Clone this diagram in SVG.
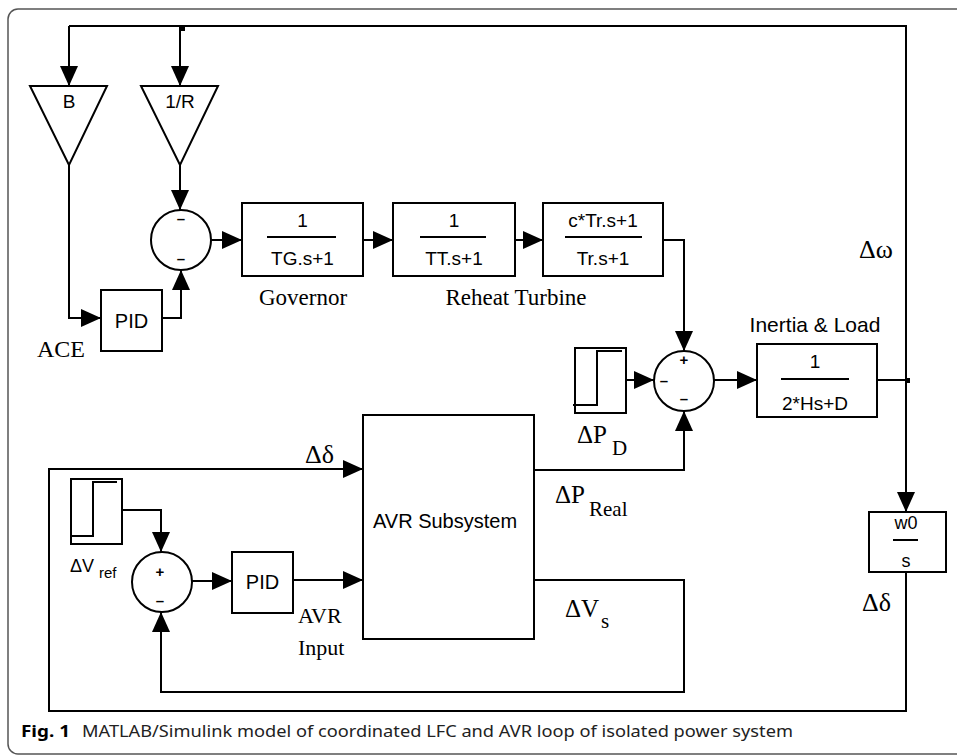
<svg xmlns="http://www.w3.org/2000/svg" width="957" height="755" viewBox="0 0 957 755">
<defs>
<style>
.ln{fill:none;stroke:#000;stroke-width:2}
.bx{fill:#fff;stroke:#000;stroke-width:2}
.h{font-family:"Liberation Sans",Arial,sans-serif;fill:#000}
.t{font-family:"Liberation Serif","Times New Roman",serif;fill:#000}
.c{text-anchor:middle}
.sg{font-family:"Liberation Sans",Arial,sans-serif;font-weight:bold;font-size:15px;text-anchor:middle}
</style>
<marker id="ar" markerUnits="userSpaceOnUse" markerWidth="20" markerHeight="18" refX="20" refY="9" orient="auto" viewBox="0 0 20 18">
<path d="M0,0 L20,9 L0,18 z" fill="#000"/>
</marker>
</defs>
<rect width="957" height="755" fill="#fff"/>
<rect x="8" y="9" width="1000" height="745" rx="10" fill="none" stroke="#555" stroke-width="1.5"/>

<g id="connectors">
<path class="ln" d="M69,26 H906 V512" marker-end="url(#ar)"/>
<path class="ln" d="M69,26 V86" marker-end="url(#ar)"/>
<path class="ln" d="M180,26 V86" marker-end="url(#ar)"/>
<rect x="180" y="25" width="5" height="6" fill="#000"/>
<path class="ln" d="M180,165 V210" marker-end="url(#ar)"/>
<path class="ln" d="M69,165 V318 H101" marker-end="url(#ar)"/>
<path class="ln" d="M162,318 H181 V270" marker-end="url(#ar)"/>
<path class="ln" d="M211,240 H242" marker-end="url(#ar)"/>
<path class="ln" d="M363,240 H393" marker-end="url(#ar)"/>
<path class="ln" d="M515,240 H543" marker-end="url(#ar)"/>
<path class="ln" d="M663,240 H684 V351" marker-end="url(#ar)"/>
<path class="ln" d="M623,380 H654" marker-end="url(#ar)"/>
<path class="ln" d="M714,380 H757" marker-end="url(#ar)"/>
<path class="ln" d="M877,380 H906"/>
<rect x="905" y="378" width="5" height="5" fill="#000"/>
<path class="ln" d="M534,470 H684 V411" marker-end="url(#ar)"/>
<path class="ln" d="M906,572 V711 H49 V469 H363" marker-end="url(#ar)"/>
<path class="ln" d="M122,510 H161 V552" marker-end="url(#ar)"/>
<path class="ln" d="M192,581 H232" marker-end="url(#ar)"/>
<path class="ln" d="M293,580 H363" marker-end="url(#ar)"/>
<path class="ln" d="M534,580 H684 V692 H161 V612" marker-end="url(#ar)"/>
</g>

<g id="gainB">
<path class="bx" d="M30,86 H107 L69,165 z"/>
<text class="h c" x="69" y="108" font-size="19">B</text>
</g>
<g id="gainR">
<path class="bx" d="M141,86 H218 L180,165 z"/>
<text class="h c" x="180" y="108" font-size="19">1/R</text>
</g>

<g id="sum1">
<circle class="bx" cx="181" cy="240" r="30"/>
<text class="sg" x="181" y="224">–</text>
<text class="sg" x="181" y="264">–</text>
</g>

<g id="pid1">
<rect class="bx" x="101" y="290" width="61" height="61"/>
<text class="h c" x="131.5" y="328" font-size="20">PID</text>
<text class="t" x="37" y="357" font-size="24">ACE</text>
</g>

<g id="governor">
<rect class="bx" x="242" y="203" width="121" height="73"/>
<text class="h c" x="302.5" y="227" font-size="19">1</text>
<line class="ln" x1="267" y1="237" x2="336" y2="237"/>
<text class="h c" x="302.5" y="265" font-size="19">TG.s+1</text>
<text class="t c" x="303" y="305" font-size="23">Governor</text>
</g>

<g id="turbine">
<rect class="bx" x="393" y="203" width="122" height="73"/>
<text class="h c" x="454" y="227" font-size="19">1</text>
<line class="ln" x1="420" y1="237" x2="486" y2="237"/>
<text class="h c" x="454" y="265" font-size="19">TT.s+1</text>
<text class="t c" x="516" y="305" font-size="23">Reheat Turbine</text>
</g>

<g id="reheat">
<rect class="bx" x="543" y="203" width="120" height="73"/>
<text class="h c" x="603" y="227" font-size="19">c*Tr.s+1</text>
<line class="ln" x1="565" y1="237" x2="642" y2="237"/>
<text class="h c" x="603" y="265" font-size="19">Tr.s+1</text>
</g>

<g id="stepPD">
<rect class="bx" x="575" y="348" width="51" height="65"/>
<path class="ln" d="M573,405 H597 V351 H622"/>
<text class="t" x="577" y="443" font-size="25">ΔP</text>
<text class="t" x="612" y="455" font-size="21">D</text>
</g>

<g id="sum2">
<circle class="bx" cx="684" cy="381" r="30"/>
<text class="sg" x="684" y="365">+</text>
<text class="sg" x="664" y="386">–</text>
<text class="sg" x="684" y="404">–</text>
</g>

<g id="inertia">
<text class="h c" x="815" y="332" font-size="21">Inertia &amp; Load</text>
<rect class="bx" x="757" y="344" width="120" height="73"/>
<text class="h c" x="815" y="368" font-size="19">1</text>
<line class="ln" x1="781" y1="379" x2="849" y2="379"/>
<text class="h c" x="815" y="410" font-size="19">2*Hs+D</text>
</g>

<text class="t" x="859" y="258" font-size="26">Δω</text>

<g id="integrator">
<rect class="bx" x="869" y="512" width="77" height="60"/>
<text class="h c" x="906" y="529" font-size="18">w0</text>
<line class="ln" x1="893" y1="540" x2="918" y2="540"/>
<text class="h c" x="906" y="567" font-size="18">s</text>
<text class="t" x="862" y="611" font-size="26">Δδ</text>
</g>

<g id="avr">
<rect class="bx" x="363" y="415" width="171" height="224"/>
<text class="h c" x="445" y="528" font-size="20">AVR Subsystem</text>
<text class="t" x="305" y="463" font-size="26">Δδ</text>
<text class="t" x="555" y="503" font-size="25">ΔP</text>
<text class="t" x="589" y="516" font-size="21">Real</text>
<text class="t" x="565" y="617" font-size="25">ΔV</text>
<text class="t" x="601" y="628" font-size="21">s</text>
</g>

<g id="stepVref">
<rect class="bx" x="71" y="479" width="51" height="65"/>
<path class="ln" d="M70,536 H93 V482 H117"/>
<text class="h" x="70" y="572" font-size="18">ΔV</text>
<text class="h" x="99" y="578" font-size="15">ref</text>
</g>

<g id="sum3">
<circle class="bx" cx="162" cy="582" r="30"/>
<text class="sg" x="160" y="577">+</text>
<text class="sg" x="160" y="606">–</text>
</g>

<g id="pid2">
<rect class="bx" x="232" y="552" width="61" height="61"/>
<text class="h c" x="262.5" y="589" font-size="20">PID</text>
<text class="t" x="298" y="623" font-size="22">AVR</text>
<text class="t" x="298" y="655" font-size="22">Input</text>
</g>

<g id="caption">
<text font-family="'Noto Sans','Open Sans',sans-serif" font-weight="bold" font-size="16" x="21" y="737" textLength="49" lengthAdjust="spacingAndGlyphs">Fig. 1</text>
<text font-family="'Noto Sans','Open Sans',sans-serif" font-size="16" x="82" y="737" textLength="711" lengthAdjust="spacingAndGlyphs" fill="#222">MATLAB/Simulink model of coordinated LFC and AVR loop of isolated power system</text>
</g>
</svg>
